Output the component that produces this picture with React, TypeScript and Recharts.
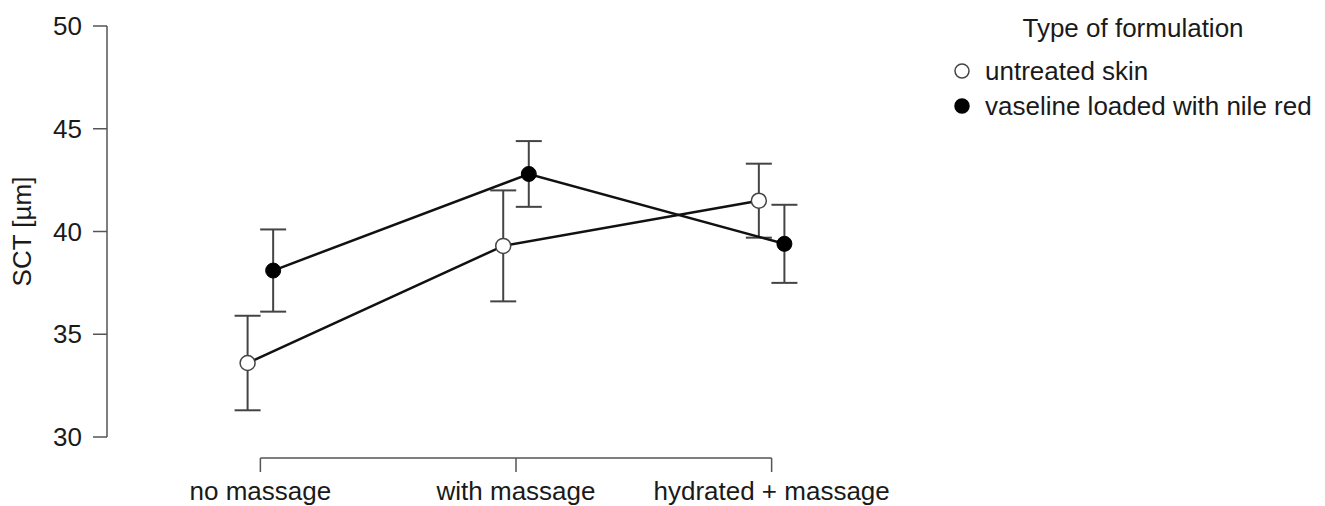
import React from "react";
import { ScatterChart, Scatter, XAxis, YAxis, ErrorBar, Legend } from "recharts";

// conditions on the x axis
const conditions = ["no massage", "with massage", "hydrated + massage"];

// means and error bar half-lengths (SCT in µm)
const untreatedMean = [33.6, 39.3, 41.5];
const untreatedErr = [2.3, 2.7, 1.8];
const vaselineMean = [38.1, 42.8, 39.4];
const vaselineErr = [2.0, 1.6, 1.9];

const yTicks = [30, 35, 40, 45, 50];
const seriesNames = ["untreated skin", "vaseline loaded with nile red"];
const legendTitle = "Type of formulation";

const FONT = "'Liberation Sans', Arial, Helvetica, sans-serif";
const AXIS_GREY = "#555";
const DODGE = 0.05;

const untreatedData = conditions.map((_, i) => ({
  x: i - DODGE,
  y: untreatedMean[i],
  err: untreatedErr[i],
}));
const vaselineData = conditions.map((_, i) => ({
  x: i + DODGE,
  y: vaselineMean[i],
  err: vaselineErr[i],
}));

const OpenDot = (p: any) => (
  <circle cx={p.cx} cy={p.cy} r={7.5} fill="#fff" stroke="#444" strokeWidth={1.5} />
);
const FilledDot = (p: any) => (
  <circle cx={p.cx} cy={p.cy} r={7.5} fill="#000" stroke="#000" strokeWidth={1} />
);

// R style x axis: the line only runs between the first and last tick
let prevTickX: number | null = null;
const XTick = (props: any) => {
  const { x, y, index, payload } = props;
  const start = index === 0 ? null : prevTickX;
  prevTickX = x;
  return (
    <g>
      {start !== null && (
        <line x1={start} y1={y + 21} x2={x} y2={y + 21} stroke={AXIS_GREY} strokeWidth={1.5} />
      )}
      <line x1={x} y1={y + 21} x2={x} y2={y + 35} stroke={AXIS_GREY} strokeWidth={1.5} />
      <text
        x={x}
        y={y + 63}
        textAnchor="middle"
        fontSize={26}
        fontFamily={FONT}
        fill="#1a1a1a"
      >
        {conditions[payload.value]}
      </text>
    </g>
  );
};

const LegendBox = () => (
  <svg width={405} height={130} style={{ display: "block" }}>
    <text x={213} y={37} textAnchor="middle" fontSize={26} fontFamily={FONT} fill="#1a1a1a">
      {legendTitle}
    </text>
    {seriesNames.map((name, i) => (
      <g key={name}>
        <circle
          cx={42}
          cy={71 + i * 35}
          r={7}
          fill={i === 0 ? "#fff" : "#000"}
          stroke={i === 0 ? "#444" : "#000"}
          strokeWidth={1.5}
        />
        <text x={65} y={80 + i * 35} fontSize={26} fontFamily={FONT} fill="#1a1a1a">
          {name}
        </text>
      </g>
    ))}
  </svg>
);

export default function App() {
  return (
    <div style={{ position: "absolute", left: 0, top: 0, background: "#fff" }}>
      <ScatterChart
        width={1325}
        height={506}
        margin={{ top: 26, right: 400, bottom: 0, left: 0 }}
      >
        <XAxis
          type="number"
          dataKey="x"
          domain={[-0.6, 2.6]}
          ticks={[0, 1, 2]}
          interval={0}
          axisLine={false}
          tickLine={false}
          tickSize={0}
          tickMargin={0}
          height={69}
          tick={XTick}
        />
        <YAxis
          type="number"
          dataKey="y"
          domain={[30, 50]}
          ticks={yTicks}
          interval={0}
          width={107}
          axisLine={{ stroke: AXIS_GREY, strokeWidth: 1.5 }}
          tickLine={{ stroke: AXIS_GREY, strokeWidth: 1.5 }}
          tickSize={14}
          tickMargin={11}
          tick={{ fontSize: 26, fontFamily: FONT, fill: "#1a1a1a" }}
          label={{
            value: "SCT [µm]",
            angle: -90,
            position: "insideLeft",
            offset: 22,
            style: { textAnchor: "middle", fontSize: 26, fontFamily: FONT, fill: "#1a1a1a" },
          }}
        />
        <Legend
          layout="vertical"
          align="center"
          verticalAlign="middle"
          wrapperStyle={{ left: 920, top: 0, width: 405, height: 130 }}
          content={LegendBox}
        />
        <Scatter
          name={seriesNames[0]}
          data={untreatedData}
          line={{ stroke: "#111", strokeWidth: 2.5 }}
          shape={OpenDot}
          isAnimationActive={false}
        >
          <ErrorBar dataKey="err" direction="y" width={13} stroke="#444" strokeWidth={2} />
        </Scatter>
        <Scatter
          name={seriesNames[1]}
          data={vaselineData}
          line={{ stroke: "#111", strokeWidth: 2.5 }}
          shape={FilledDot}
          isAnimationActive={false}
        >
          <ErrorBar dataKey="err" direction="y" width={13} stroke="#444" strokeWidth={2} />
        </Scatter>
      </ScatterChart>
    </div>
  );
}
